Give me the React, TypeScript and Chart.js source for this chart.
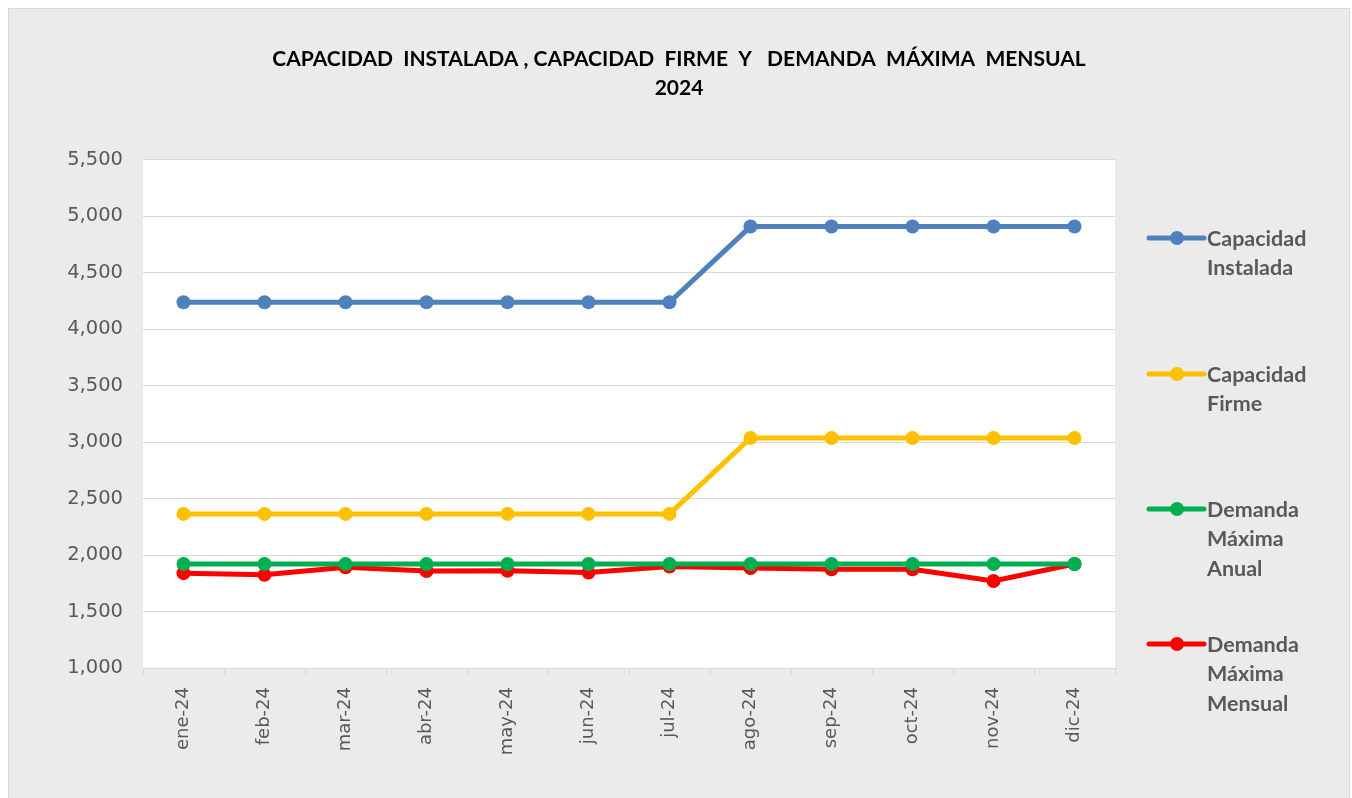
import React, { useEffect, useRef } from "react";
import { Chart, registerables } from "chart.js";

Chart.register(...registerables);

const categories = ["ene-24", "feb-24", "mar-24", "abr-24", "may-24", "jun-24", "jul-24", "ago-24", "sep-24", "oct-24", "nov-24", "dic-24"];
const capacidadInstalada = [4240, 4240, 4240, 4240, 4240, 4240, 4240, 4910, 4910, 4910, 4910, 4910];
const capacidadFirme = [2365, 2365, 2365, 2365, 2365, 2365, 2365, 3037, 3037, 3037, 3037, 3037];
const demandaAnual = [1921, 1921, 1921, 1921, 1921, 1921, 1921, 1921, 1921, 1921, 1921, 1921];
const demandaMensual = [1840, 1825, 1892, 1859, 1862, 1845, 1898, 1886, 1874, 1874, 1771, 1921];
const seriesLabels = [["Capacidad", "Instalada"], ["Capacidad", "Firme"], ["Demanda", "Máxima", "Anual"], ["Demanda", "Máxima", "Mensual"]];
const seriesColors = ["#4f81bd", "#ffc000", "#00b050", "#ff0000"];
const titleLines = ["CAPACIDAD  INSTALADA , CAPACIDAD  FIRME  Y   DEMANDA  MÁXIMA  MENSUAL", "2024"];
const yMin = 1000;
const yMax = 5500;
const yStep = 500;

const legendYs = [230, 366, 501, 636];

const bgPlugin = {
  id: "bgPlugin",
  beforeDraw(chart: any) {
    const { ctx, chartArea, width, height } = chart;
    ctx.save();
    ctx.fillStyle = "#ebebeb";
    ctx.fillRect(0, 0, width, height);
    ctx.strokeStyle = "#d9d9d9";
    ctx.lineWidth = 1;
    ctx.strokeRect(0.5, 0.5, width - 1, height);
    ctx.fillStyle = "#ffffff";
    ctx.fillRect(chartArea.left, chartArea.top, chartArea.right - chartArea.left, chartArea.bottom - chartArea.top);
    ctx.restore();
  },
};

const legendPlugin = {
  id: "customLegend",
  afterDraw(chart: any) {
    const { ctx } = chart;
    ctx.save();
    chart.data.datasets.forEach((ds: any, i: number) => {
      const y = legendYs[i];
      const x0 = 1141;
      ctx.strokeStyle = ds.borderColor;
      ctx.lineWidth = 5;
      ctx.lineCap = "round";
      ctx.beginPath();
      ctx.moveTo(x0, y);
      ctx.lineTo(x0 + 55, y);
      ctx.stroke();
      ctx.fillStyle = ds.borderColor;
      ctx.beginPath();
      ctx.arc(x0 + 28, y, 7, 0, Math.PI * 2);
      ctx.fill();
      ctx.fillStyle = "#595959";
      ctx.font = "bold 21.5px Lato, 'Open Sans', sans-serif";
      ctx.textBaseline = "middle";
      ctx.textAlign = "left";
      const lines = seriesLabels[i];
      lines.forEach((t: string, j: number) => {
        ctx.fillText(t, x0 + 58, y + 1 + j * 29.5);
      });
    });
    ctx.restore();
  },
};

export default function App() {
  const ref = useRef<HTMLCanvasElement>(null);
  useEffect(() => {
    document.body.style.margin = "0";
    document.body.style.overflow = "hidden";
    const canvas = ref.current!;
    const mk = (label: string[], data: number[], color: string) => ({
      label: label.join(" "),
      data,
      borderColor: color,
      backgroundColor: color,
      borderWidth: 5,
      pointRadius: 7,
      pointHoverRadius: 7,
      pointBackgroundColor: color,
      pointBorderColor: color,
      pointBorderWidth: 0,
      tension: 0,
    });
    const chart = new Chart(canvas, {
      type: "line",
      data: {
        labels: categories,
        datasets: [
          mk(seriesLabels[0], capacidadInstalada, seriesColors[0]),
          mk(seriesLabels[1], capacidadFirme, seriesColors[1]),
          mk(seriesLabels[2], demandaAnual, seriesColors[2]),
          mk(seriesLabels[3], demandaMensual, seriesColors[3]),
        ],
      },
      options: {
        animation: false,
        responsive: false,
        maintainAspectRatio: false,
        layout: { padding: { top: 0, left: 0, right: 0, bottom: 0 } },
        plugins: {
          legend: { display: false },
          tooltip: { enabled: false },
          title: {
            display: true,
            text: titleLines,
            color: "#000000",
            font: { family: "Lato, 'Open Sans', sans-serif", size: 21, weight: "bold", lineHeight: 1.38 },
            padding: { top: 36.5, bottom: 57.5 },
          },
        },
        scales: {
          x: {
            offset: true,
            grid: { display: true, drawOnChartArea: false, offset: true, tickLength: 7, color: "#d9d9d9", lineWidth: 1 },
            border: { display: true, color: "#d9d9d9", width: 1 },
            ticks: {
              color: "#595959",
              font: { family: "'DejaVu Sans', sans-serif", size: 18 },
              maxRotation: 90,
              minRotation: 90,
              padding: 12,
              autoSkip: false,
            },
            afterFit: (s: any) => { s.height = 130; },
          },
          y: {
            min: yMin,
            max: yMax,
            grid: { color: "#d9d9d9", lineWidth: 1, drawTicks: false },
            border: { display: false },
            ticks: {
              stepSize: yStep,
              color: "#595959",
              font: { family: "'DejaVu Sans', sans-serif", size: 19.5 },
              padding: 20,
              callback: (v: any) => Number(v).toLocaleString("en-US"),
            },
            afterFit: (s: any) => { s.width = 135; },
          },
          yRight: {
            position: "right",
            display: true,
            min: yMin,
            max: yMax,
            grid: { display: false },
            border: { display: false },
            ticks: { display: false },
            afterFit: (s: any) => { s.width = 235; },
          },
        },
      },
      plugins: [bgPlugin, legendPlugin],
    });
    return () => chart.destroy();
  }, []);
  return (
    <div style={{ padding: "8px 2px 0 8px" }}>
      <canvas ref={ref} width={1342} height={790} style={{ display: "block" }} />
    </div>
  );
}
